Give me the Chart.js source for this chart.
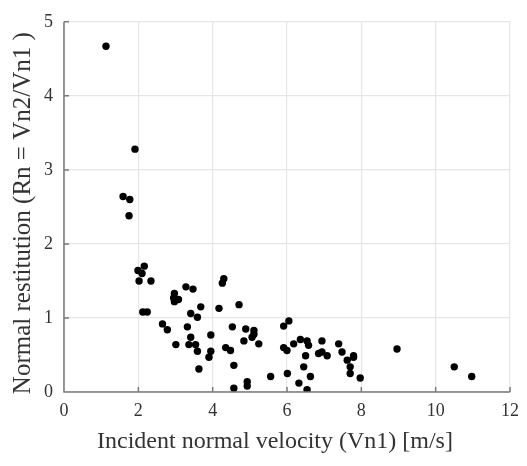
<!DOCTYPE html>
<html>
<head>
<meta charset="utf-8">
<script src="https://cdn.jsdelivr.net/npm/chart.js@4"></script>
<style>
  html, body { margin: 0; padding: 0; background: #fff; }
  #wrap { width: 527px; height: 466px; }
</style>
</head>
<body>
<div id="wrap"><canvas id="chart1" width="527" height="466"></canvas></div>
<script>
// incident normal velocity Vn1 [m/s]
const vn1 = [
  1.13, 1.91, 1.59, 1.77, 1.75, 2.16, 1.99, 2.10, 2.02, 2.34,
  2.12, 2.24, 2.97, 2.95, 3.08, 2.97, 3.28, 3.47, 3.68, 3.41,
  3.59, 2.65, 2.78, 3.32, 3.01, 3.41, 3.36, 3.54, 3.59, 3.95,
  3.95, 3.90, 3.63, 4.17, 4.26, 4.30, 4.71, 4.53, 4.89, 5.11,
  5.11, 5.06, 4.84, 5.24, 4.35, 4.48, 4.57, 4.57, 4.93, 4.93,
  5.56, 5.91, 6.05, 5.91, 6.00, 6.18, 6.01, 6.36, 6.54, 6.58,
  6.50, 6.45, 6.32, 6.54, 6.63, 6.94, 6.85, 6.94, 7.08, 7.39,
  7.48, 7.62, 7.79, 7.79, 7.70, 7.70, 7.97, 8.96, 10.50, 10.97
];
// normal restitution Rn = Vn2/Vn1
const rn = [
  4.67, 3.28, 2.64, 2.60, 2.38, 1.70, 1.64, 1.60, 1.50, 1.50,
  1.08, 1.08, 1.33, 1.27, 1.25, 1.22, 1.42, 1.39, 1.15, 1.06,
  1.01, 0.92, 0.84, 0.88, 0.64, 0.74, 0.64, 0.64, 0.55, 0.77,
  0.55, 0.47, 0.31, 1.13, 1.47, 1.53, 1.18, 0.88, 0.85, 0.83,
  0.78, 0.74, 0.69, 0.65, 0.60, 0.56, 0.36, 0.05, 0.14, 0.08,
  0.21, 0.89, 0.96, 0.60, 0.56, 0.65, 0.25, 0.71, 0.69, 0.63,
  0.49, 0.34, 0.12, 0.03, 0.21, 0.69, 0.52, 0.54, 0.49, 0.65,
  0.54, 0.43, 0.49, 0.47, 0.34, 0.25, 0.19, 0.58, 0.34, 0.21
];
const xTicks = [0, 2, 4, 6, 8, 10, 12];
const yTicks = [0, 1, 2, 3, 4, 5];

let points = [];
for (let i = 0; i < vn1.length; i++) {
  points.push({x: vn1[i], y: rn[i]});
}

const serif = 'Liberation Serif';
const axisColor = '#7a7a7a';
const textColor = '#333';

// short inward tick marks on left and bottom axes
const inwardTicks = {
  id: 'inwardTicks',
  afterDraw(chart) {
    const c = chart.ctx;
    const a = chart.chartArea;
    const xs = chart.scales.x, ys = chart.scales.y;
    c.save();
    c.strokeStyle = axisColor;
    c.lineWidth = 1.5;
    c.beginPath();
    c.moveTo(a.left, a.top);
    c.lineTo(a.left, a.bottom);
    c.lineTo(a.right, a.bottom);
    xTicks.forEach(function(v) {
      const px = xs.getPixelForValue(v);
      c.moveTo(px, a.bottom);
      c.lineTo(px, a.bottom - 5);
    });
    yTicks.forEach(function(v) {
      const py = ys.getPixelForValue(v);
      c.moveTo(a.left, py);
      c.lineTo(a.left + 5, py);
    });
    c.stroke();
    c.restore();
  }
};

var ctx = document.getElementById('chart1').getContext('2d');
var chart1 = new Chart(ctx, {
  type: 'scatter',
  data: {
    datasets: [{
      data: points,
      backgroundColor: '#000',
      borderColor: '#000',
      pointRadius: 3.7,
      borderWidth: 0
    }]
  },
  options: {
    responsive: false,
    animation: false,
    layout: { padding: { top: 13, right: 16, left: 0, bottom: 0 } },
    plugins: { legend: { display: false }, tooltip: { enabled: false } },
    scales: {
      x: {
        type: 'linear',
        min: 0, max: 12,
        afterBuildTicks: function(s) { s.ticks = xTicks.map(v => ({value: v})); },
        afterFit: function(s) { s.height = 74; },
        border: { display: false },
        grid: { color: '#e6e6e6', lineWidth: 1.2, drawTicks: false },
        ticks: { color: textColor, padding: 8, font: { family: serif, size: 18 }, maxRotation: 0 },
        title: {
          display: true,
          // trailing spaces nudge the label left, as in the original figure
          text: 'Incident normal velocity (Vn1) [m/s]    ',
          color: textColor,
          font: { family: serif, size: 24 },
          padding: { top: 4, bottom: 10 }
        }
      },
      y: {
        type: 'linear',
        min: 0, max: 5,
        afterBuildTicks: function(s) { s.ticks = yTicks.map(v => ({value: v})); },
        afterFit: function(s) { s.width = 64; },
        border: { display: false },
        grid: { color: '#e6e6e6', lineWidth: 1.2, drawTicks: false },
        ticks: { color: textColor, padding: 11, font: { family: serif, size: 18 } },
        title: {
          display: true,
          text: 'Normal restitution (Rn = Vn2/Vn1 )  ',
          color: textColor,
          font: { family: serif, size: 25 },
          padding: { top: 8, bottom: 4 }
        }
      }
    }
  },
  plugins: [inwardTicks]
});
</script>
</body>
</html>
